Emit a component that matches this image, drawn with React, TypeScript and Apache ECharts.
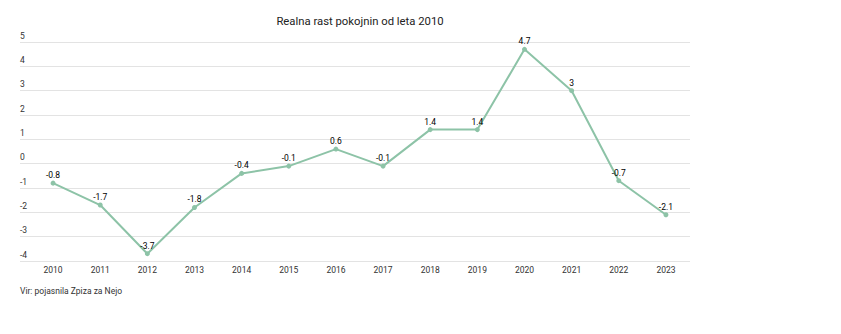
import React, { useEffect, useRef } from "react";
import * as echarts from "echarts";

const years = ["2010","2011","2012","2013","2014","2015","2016","2017","2018","2019","2020","2021","2022","2023"];
const growth = [-0.8, -1.7, -3.7, -1.8, -0.4, -0.1, 0.6, -0.1, 1.4, 1.4, 4.7, 3, -0.7, -2.1];
const yMin = -4;
const yMax = 5;
const titleText = "Realna rast pokojnin od leta 2010";
const sourceText = "Vir: pojasnila Zpiza za Nejo";

export default function App() {
  const ref = useRef<HTMLDivElement>(null);
  useEffect(() => {
    if (!ref.current) return;
    const chart = echarts.init(ref.current, null, { renderer: "svg" });
    const font = "Roboto, 'Noto Sans', sans-serif";
    chart.setOption({
      animation: false,
      textStyle: { fontFamily: font },
      title: {
        text: titleText,
        left: 347,
        textAlign: "center",
        top: 3,
        textStyle: { fontSize: 11.3, fontWeight: "normal", color: "#222", fontFamily: font },
      },
      graphic: [
        {
          type: "text",
          left: 12,
          top: 278,
          style: { text: sourceText, fontSize: 8.5, fill: "#333", fontFamily: font },
        },
      ],
      grid: [
        { left: 21.5, right: 143.5, top: 34, bottom: 65 },
        { left: 12, right: 143, top: 34, bottom: 65 },
      ],
      xAxis: [
        {
          type: "category",
          data: years,
          gridIndex: 0,
          boundaryGap: true,
          axisLine: { show: false },
          axisTick: { show: false },
          axisLabel: { color: "#333", fontSize: 8.5, margin: 4, fontFamily: font },
          splitLine: { show: false },
        },
        {
          type: "category",
          data: years,
          gridIndex: 1,
          show: false,
        },
      ],
      yAxis: [
        {
          type: "value",
          gridIndex: 0,
          min: yMin,
          max: yMax,
          interval: 1,
          axisLabel: { show: false },
          axisLine: { show: false },
          axisTick: { show: false },
          splitLine: { show: false },
        },
        {
          type: "value",
          gridIndex: 1,
          min: yMin,
          max: yMax,
          interval: 1,
          axisLine: { show: false },
          axisTick: { show: false },
          axisLabel: {
            inside: true,
            margin: 0,
            verticalAlign: "bottom",
            padding: [0, 0, 2, 0],
            color: "#333",
            fontSize: 8.5,
            fontFamily: font,
          },
          splitLine: { show: true, lineStyle: { color: "#e3e3e3", width: 1 } },
          z: 0,
        },
      ],
      series: [
        {
          type: "line",
          xAxisIndex: 0,
          yAxisIndex: 0,
          data: growth,
          symbol: "circle",
          symbolSize: 5,
          lineStyle: { color: "#8dc3a7", width: 2 },
          itemStyle: { color: "#8dc3a7" },
          label: {
            show: true,
            position: "top",
            distance: 1,
            color: "#000",
            fontSize: 8.5,
            fontWeight: "normal",
            fontFamily: font,
          },
          z: 3,
        },
      ],
    });
    return () => chart.dispose();
  }, []);
  return <div ref={ref} style={{ width: 825, height: 318 }} />;
}
